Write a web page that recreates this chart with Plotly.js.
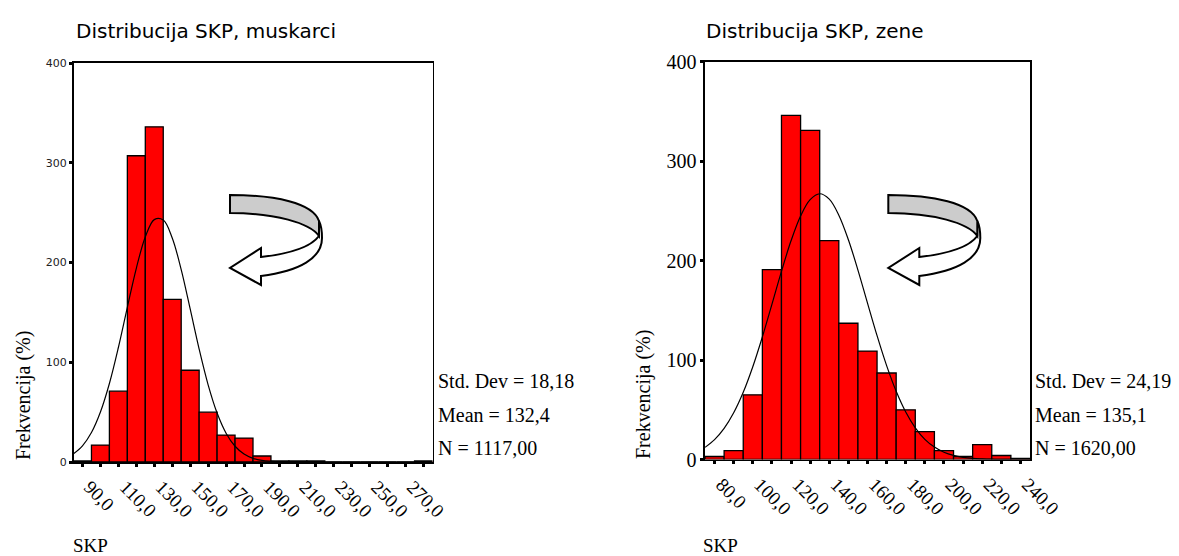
<!DOCTYPE html>
<html>
<head>
<meta charset="utf-8">
<script src="https://cdn.plot.ly/plotly-3.0.1.min.js"></script>
<style>html,body{margin:0;padding:0;background:#fff;}#chart{width:1179px;height:556px;}</style>
</head>
<body>
<div id="chart"></div>
<script>
// ---- Data ----
const binsMen = [90,100,110,120,130,140,150,160,170,180,190,200,210,220,230,240,250,260,270,280];
const countsMen = [1,17,71,307,336,163,92,50,27,24,6,1,1,1,0,0,0,0,0,1];
const tickLabelsMen = ["90,0","","110,0","","130,0","","150,0","","170,0","","190,0","","210,0","","230,0","","250,0","","270,0",""];
const curveMenX = [85,90,95,100,105,110,115,120,125,130,135,140,145,150,155,160,165,170,175,180,185,190,195,200,210,285];
const curveMenY = [8.2,16.2,29.5,50.1,78.7,114.8,155.1,194.2,225.6,243.0,242.6,224.6,192.8,153.4,113.2,77.4,49.1,28.9,15.8,8.0,3.7,1.6,0.7,0.2,0,0];
const statsMen = ["Std. Dev = 18,18","Mean = 132,4","N = 1117,00"];

const binsWomen = [80,90,100,110,120,130,140,150,160,170,180,190,200,210,220,230,240];
const countsWomen = [3,9,65,191,346,331,220,137,109,87,50,28,9,3,15,4,1];
const tickLabelsWomen = ["80,0","","100,0","","120,0","","140,0","","160,0","","180,0","","200,0","","220,0","","240,0"];
const curveWomenX = [75,80,85,90,95,100,105,110,115,120,125,130,135,140,145,150,155,160,165,170,175,180,185,190,195,200,205,210,215,220,225,230,240,245];
const curveWomenY = [12.2,20.0,31.3,47.0,67.6,93.3,123.2,156.0,189.2,219.9,244.9,261.3,267.2,261.8,245.7,221.0,190.5,157.3,124.5,94.4,68.6,47.7,31.8,20.3,12.5,7.3,4.1,2.2,1.1,0.6,0.3,0.1,0,0];
const statsWomen = ["Std. Dev = 24,19","Mean = 135,1","N = 1620,00"];

const yTicks = [0,100,200,300,400];
const titles = ["Distribucija SKP, muskarci","Distribucija SKP, zene"];
const yTitle = "Frekvencija (%)";
const xTitle = "SKP";

// ---- Layout helpers ----
const W = 1179, H = 556;
const px = x => x / W;
const py = y => 1 - y / H;
const SERIF = "Liberation Serif, Times New Roman, serif";
const SANS = "DejaVu Sans, Verdana, sans-serif";

function pathToPaper(pts) {
  return pts.map(p => typeof p === "string" ? p : (px(p[0]).toFixed(5) + "," + py(p[1]).toFixed(5))).join(" ");
}
function arrowShapes(dx) {
  const a = [
    "M",[319+dx,236],"C",[310+dx,248],[288+dx,254],[261+dx,257],
    "L",[261+dx,248],"L",[230+dx,268],"L",[261+dx,285],"L",[261+dx,276],
    "C",[300+dx,271],[322+dx,258],[322+dx,238],
    "C",[322+dx,230],[321+dx,225],[319+dx,221],"Z"
  ];
  const b = [
    "M",[230+dx,195],"C",[275+dx,195],[313+dx,203],[319+dx,221],
    "L",[319+dx,236],"C",[310+dx,223],[275+dx,213],[230+dx,213],"Z"
  ];
  return [
    {type:"path", xref:"paper", yref:"paper", path: pathToPaper(a), fillcolor:"#ffffff", line:{color:"#000", width:2}},
    {type:"path", xref:"paper", yref:"paper", path: pathToPaper(b), fillcolor:"#cccccc", line:{color:"#000", width:2}}
  ];
}

const traces = [
  {type:"bar", x:binsMen, y:countsMen, width:10, xaxis:"x", yaxis:"y",
   marker:{color:"#ff0000", line:{color:"#000", width:1.3}}, hoverinfo:"x+y"},
  {type:"scatter", mode:"lines", x:curveMenX, y:curveMenY, xaxis:"x", yaxis:"y",
   line:{color:"#000", width:1.2, shape:"spline", smoothing:1}},
  {type:"bar", x:binsWomen, y:countsWomen, width:10, xaxis:"x2", yaxis:"y2",
   marker:{color:"#ff0000", line:{color:"#000", width:1.3}}, hoverinfo:"x+y"},
  {type:"scatter", mode:"lines", x:curveWomenX, y:curveWomenY, xaxis:"x2", yaxis:"y2",
   line:{color:"#000", width:1.2, shape:"spline", smoothing:1}}
];

const axisCommon = {showline:true, mirror:true, linecolor:"#000", linewidth:1.6, showgrid:false, zeroline:false,
  ticks:"outside", ticklen:3, tickwidth:3, tickcolor:"#000", automargin:false, fixedrange:true};

const layout = {
  width:W, height:H, margin:{l:0,r:0,t:0,b:0},
  paper_bgcolor:"#fff", plot_bgcolor:"#fff", showlegend:false, bargap:0,
  xaxis: Object.assign({}, axisCommon, {domain:[px(73.5), px(432.5)], range:[85,285], tickmode:"array",
    tickvals:binsMen, ticktext:tickLabelsMen, tickangle:45, ticklabelshift:7, ticklabelstandoff:2,
    tickfont:{family:SERIF, size:19, color:"#000"}, anchor:"y"}),
  yaxis: Object.assign({}, axisCommon, {domain:[py(462), py(63)], range:[0,400], tickmode:"array",
    tickvals:yTicks, ticktext:yTicks.map(String), tickfont:{family:SANS, size:11, color:"#222"}, anchor:"x"}),
  xaxis2: Object.assign({}, axisCommon, {domain:[px(705), px(1030)], range:[75,245], tickmode:"array",
    tickvals:binsWomen, ticktext:tickLabelsWomen, tickangle:45, ticklabelshift:7, ticklabelstandoff:2,
    tickfont:{family:SERIF, size:19, color:"#000"}, anchor:"y2"}),
  yaxis2: Object.assign({}, axisCommon, {domain:[py(459.5), py(61.7)], range:[0,400], tickmode:"array",
    tickvals:yTicks, ticktext:yTicks.map(String), tickfont:{family:SERIF, size:20, color:"#000"}, anchor:"x2"}),
  shapes: [].concat(arrowShapes(0), arrowShapes(658.3)),
  annotations: []
};

function addText(text, x, y, font, opts) {
  layout.annotations.push(Object.assign({text:text, x:px(x), y:py(y), xref:"paper", yref:"paper",
    showarrow:false, xanchor:"left", yanchor:"middle", font:font}, opts||{}));
}
// titles
addText(titles[0], 74, 31, {family:SANS, size:20, color:"#000"});
addText(titles[1], 704, 31, {family:SANS, size:20, color:"#000"});
// y titles
addText(yTitle, 23, 396, {family:SERIF, size:20, color:"#000"}, {textangle:-90, xanchor:"center"});
addText(yTitle, 643, 395, {family:SERIF, size:20, color:"#000"}, {textangle:-90, xanchor:"center"});
// x titles
addText(xTitle, 71, 545, {family:SERIF, size:19, color:"#000"});
addText(xTitle, 701, 545, {family:SERIF, size:19, color:"#000"});
// stats
const statY = [381, 415, 448];
statsMen.forEach((s,i) => addText(s, 436, statY[i], {family:SERIF, size:20, color:"#000"}));
statsWomen.forEach((s,i) => addText(s, 1033, statY[i], {family:SERIF, size:20, color:"#000"}));

Plotly.newPlot("chart", traces, layout, {displayModeBar:false, staticPlot:true});
</script>
</body>
</html>
